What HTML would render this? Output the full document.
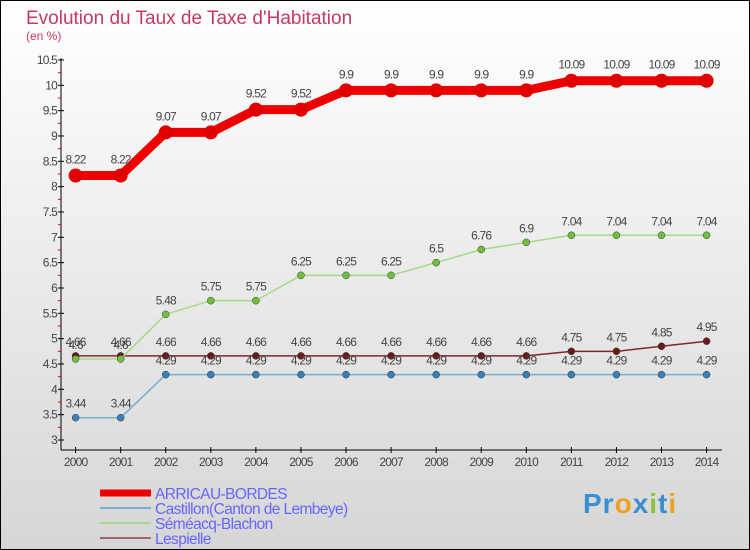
<!DOCTYPE html>
<html><head><meta charset="utf-8"><style>
body{margin:0}
#c{width:750px;height:550px;position:relative;overflow:hidden}
</style></head><body>
<div id="c">
<svg id="s" width="750" height="550" xmlns="http://www.w3.org/2000/svg" font-family="Liberation Sans, sans-serif">
<defs><linearGradient id="bg" x1="0" y1="0" x2="0" y2="1"><stop offset="0" stop-color="#ffffff"/><stop offset="1" stop-color="#d6d6d6"/></linearGradient></defs>
<rect x="0.5" y="0.5" width="749" height="549" fill="url(#bg)" stroke="#000"/>
<text x="26" y="24" font-size="19" fill="#c8385f">Evolution du Taux de Taxe d'Habitation</text>
<text x="26" y="40" font-size="12" fill="#c8385f">(en %)</text>
<g id="axes"></g><g id="series"></g><g id="legend"></g>
</svg>
<div style="position:absolute;left:583px;top:488px;font:bold 28px 'Liberation Sans',sans-serif;letter-spacing:1px"><span style="color:#3a8fd0">Pr</span><span style="color:#f0a020">o</span><span style="color:#3a8fd0">x</span><span style="color:#90c040">i</span><span style="color:#3a8fd0">t</span><span style="color:#f0a020">i</span></div>
</div>
<script>
const years=[2000,2001,2002,2003,2004,2005,2006,2007,2008,2009,2010,2011,2012,2013,2014];
const yTicks=[3,3.5,4,4.5,5,5.5,6,6.5,7,7.5,8,8.5,9,9.5,10,10.5];
const arricau=[8.22,8.22,9.07,9.07,9.52,9.52,9.9,9.9,9.9,9.9,9.9,10.09,10.09,10.09,10.09];
const castillon=[3.44,3.44,4.29,4.29,4.29,4.29,4.29,4.29,4.29,4.29,4.29,4.29,4.29,4.29,4.29];
const semeacq=[4.6,4.6,5.48,5.75,5.75,6.25,6.25,6.25,6.5,6.76,6.9,7.04,7.04,7.04,7.04];
const lespielle=[4.66,4.66,4.66,4.66,4.66,4.66,4.66,4.66,4.66,4.66,4.66,4.75,4.75,4.85,4.95];
const names=["ARRICAU-BORDES","Castillon(Canton de Lembeye)","Séméacq-Blachon","Lespielle"];
const NS="http://www.w3.org/2000/svg";
const X=i=>75.6+i*45.07, Y=v=>440-(v-3)*50.67;
function el(p,t,a){const e=document.createElementNS(NS,t);for(const k in a)e.setAttribute(k,a[k]);p.appendChild(e);return e;}
const ax=document.getElementById('axes');
let l=el(ax,'line',{x1:61,y1:58,x2:61,y2:450,stroke:'#000'});


l=el(ax,'line',{x1:61,y1:450,x2:722,y2:450,stroke:'#000'});


yTicks.forEach(v=>{const y=Y(v);
 el(ax,'line',{x1:58,y1:y,x2:64,y2:y,stroke:'#000'});
 el(ax,'line',{x1:58,y1:y+12.7,x2:61,y2:y+12.7,stroke:v>3?'#e00':'none'});
 const t=el(ax,'text',{x:57,y:y+4,'font-size':12,fill:'#444','text-anchor':'end','letter-spacing':'-0.8'});t.textContent=v;
 
 });
years.forEach((yr,i)=>{const x=X(i);
 el(ax,'line',{x1:x,y1:447,x2:x,y2:453,stroke:'#000'});
 const t=el(ax,'text',{x:x,y:466,'font-size':12,fill:'#444','text-anchor':'middle','letter-spacing':'-0.8'});t.textContent=yr;
 
 });
const sg=document.getElementById('series');
const cfg=[[lespielle,'#7a2a2a',1.5,3.5,'#6a1818','lespielle'],[semeacq,'#a8d888',1.5,3.5,'#70c040','semeacq'],[castillon,'#78acd0',1.5,3.5,'#3a80b8','castillon'],[arricau,'#ee0000',9,7,'#e00000','arricau']];
cfg.forEach(([d,c,w,r,fc,n])=>{
 const p=el(sg,'polyline',{points:d.map((v,i)=>X(i)+','+Y(v)).join(' '),fill:'none',stroke:c,'stroke-width':w,'stroke-linejoin':'round'});
 
 
 d.forEach((v,i)=>{const ci=el(sg,'circle',{cx:X(i),cy:Y(v),r:r,fill:fc,stroke:r<5?'#333':'none','stroke-width':0.5});
  
  
  const t=el(sg,'text',{x:X(i),y:Y(v)-(n=='arricau'?12:10),'font-size':12,fill:'#444','text-anchor':'middle','letter-spacing':'-0.8'});t.textContent=v;
  
  });
});
const lg=document.getElementById('legend');
const lc=[['#ee0000',7],['#78acd0',2],['#a8d888',2],['#9a6868',2]];
names.forEach((nm,i)=>{const y=493+i*15;
 const r=el(lg,'line',{x1:100,y1:y,x2:151,y2:y,stroke:lc[i][0],'stroke-width':lc[i][1]});
 
 
 const t=el(lg,'text',{x:155,y:y+6,'font-size':15.5,fill:'#6666ff','letter-spacing':'-0.6'});t.textContent=nm;
 
 });
</script>
</body></html>
